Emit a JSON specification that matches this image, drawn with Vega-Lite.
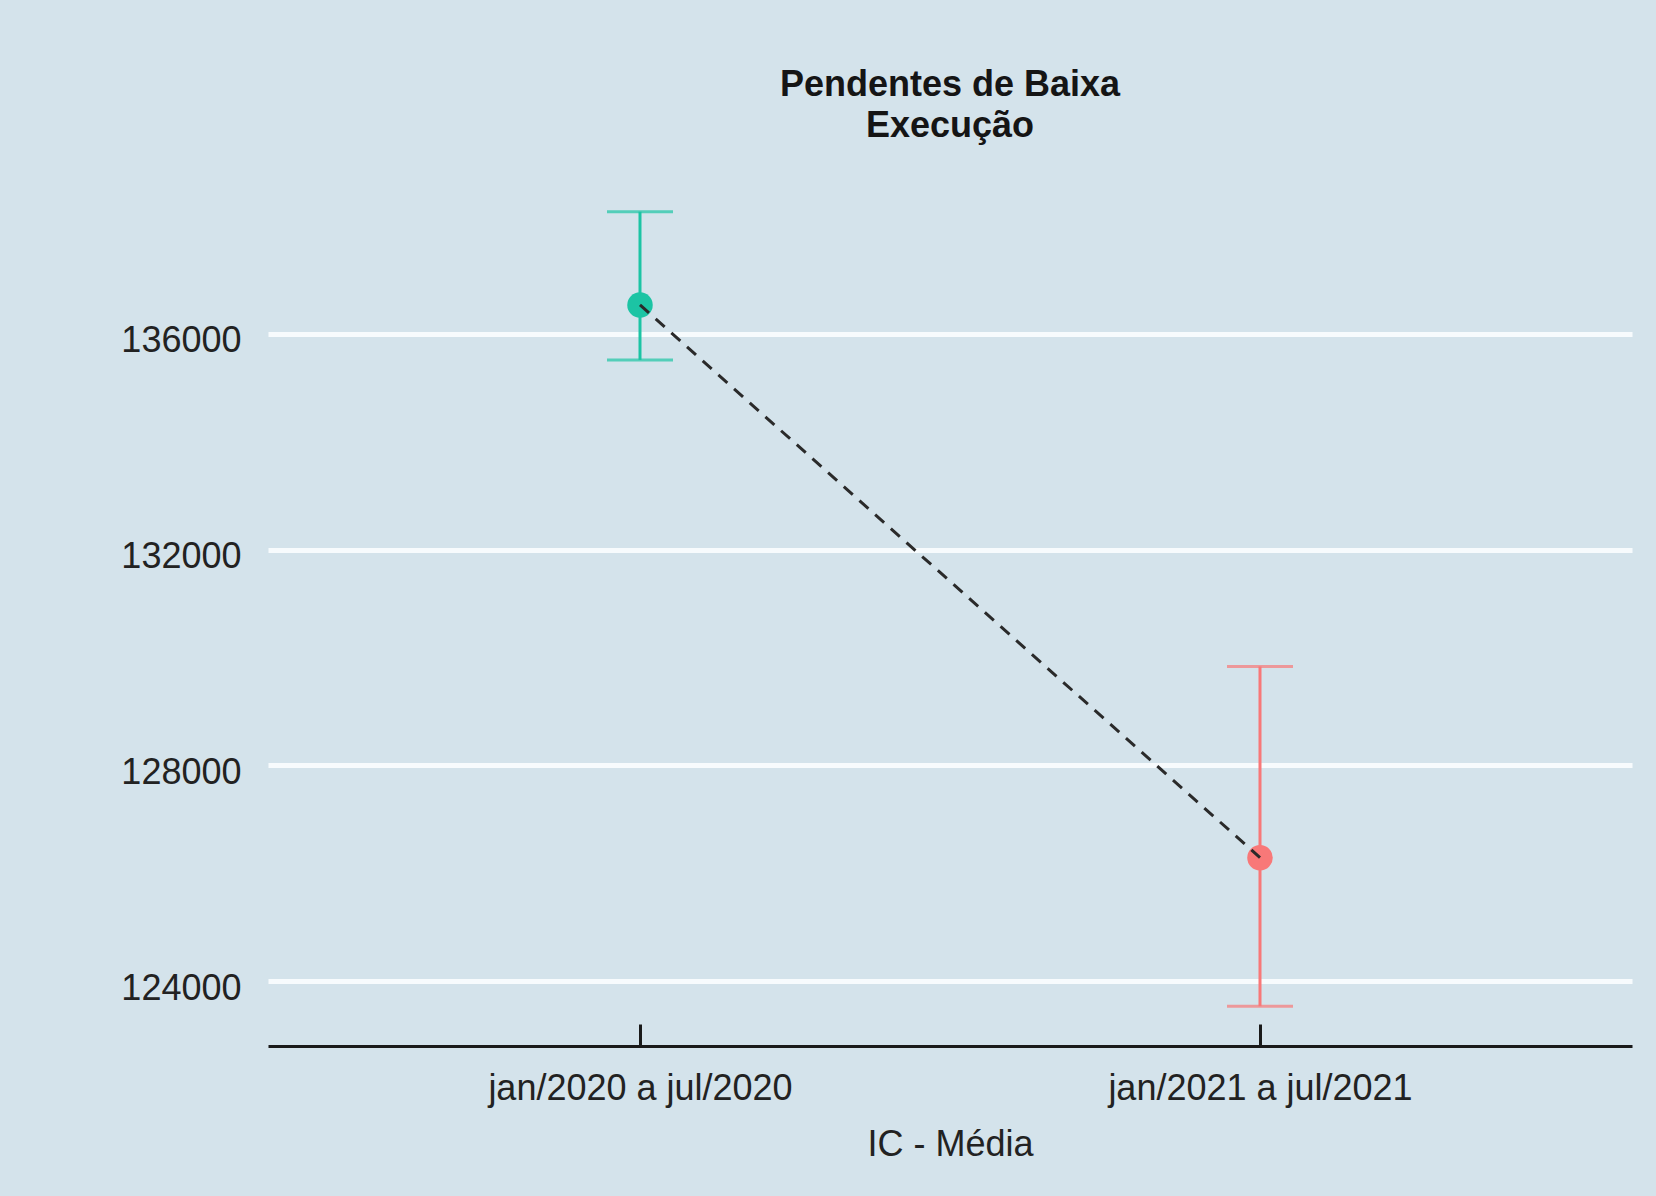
{
  "$schema": "https://vega.github.io/schema/vega-lite/v6.json",
  "autosize": {"type": "none"},
  "width": 1364,
  "height": 874,
  "padding": {"left": 268, "top": 172, "right": 24, "bottom": 150},
  "background": "#d4e3eb",
  "config": {
    "view": {"stroke": null},
    "font": "Liberation Sans",
    "axisY": {
      "domain": false,
      "ticks": false,
      "labelFontSize": 36,
      "labelColor": "#222222",
      "labelPadding": 27,
      "labelOffset": 7,
      "gridColor": "#f7fbfd",
      "gridWidth": 5
    }
  },
  "title": {
    "text": ["Pendentes de Baixa", "Execução"],
    "fontSize": 36,
    "fontWeight": "bold",
    "font": "Liberation Sans",
    "color": "#151515",
    "anchor": "middle",
    "offset": 27,
    "lineHeight": 41
  },
  "data": {
    "values": [
      {"periodo": "jan/2020 a jul/2020", "media": 136531, "inferior": 135513, "superior": 138259},
      {"periodo": "jan/2021 a jul/2021", "media": 126291, "inferior": 123537, "superior": 129833}
    ]
  },
  "encoding": {
    "x": {
      "field": "periodo",
      "type": "nominal",
      "sort": null,
      "scale": {"type": "point", "padding": 0.6},
      "title": "IC - Média",
      "axis": {
        "labelAngle": 0,
        "labelFontSize": 36,
        "labelColor": "#222222",
        "labelPadding": 47,
        "labelLimit": 0,
        "domainColor": "#1a1a1a",
        "domainWidth": 3,
        "tickColor": "#1a1a1a",
        "tickWidth": 3,
        "tickSize": -22,
        "grid": false,
        "titleFontSize": 36,
        "titleFontWeight": "normal",
        "titleColor": "#222222",
        "titlePadding": 21
      }
    }
  },
  "layer": [
    {
      "mark": {"type": "rule", "strokeWidth": 3},
      "encoding": {
        "y": {
          "field": "inferior",
          "type": "quantitative",
          "scale": {"domain": [122801, 138995], "nice": false, "zero": false},
          "title": null,
          "axis": {"values": [124000, 128000, 132000, 136000], "format": "d"}
        },
        "y2": {"field": "superior"},
        "color": {
          "field": "periodo",
          "type": "nominal",
          "scale": {"domain": ["jan/2020 a jul/2020", "jan/2021 a jul/2021"], "range": ["#1cc4a4", "#f87878"]},
          "legend": null
        }
      }
    },
    {
      "mark": {"type": "tick", "size": 66, "thickness": 3},
      "encoding": {
        "y": {"field": "inferior", "type": "quantitative", "title": null, "axis": {"values": [124000, 128000, 132000, 136000], "format": "d"}},
        "color": {"field": "periodo", "type": "nominal", "legend": null}
      }
    },
    {
      "mark": {"type": "tick", "size": 66, "thickness": 3},
      "encoding": {
        "y": {"field": "superior", "type": "quantitative", "title": null, "axis": {"values": [124000, 128000, 132000, 136000], "format": "d"}},
        "color": {"field": "periodo", "type": "nominal", "legend": null}
      }
    },
    {
      "mark": {"type": "point", "filled": true, "opacity": 1, "size": 650},
      "encoding": {
        "y": {"field": "media", "type": "quantitative", "title": null, "axis": {"values": [124000, 128000, 132000, 136000], "format": "d"}},
        "color": {"field": "periodo", "type": "nominal", "legend": null}
      }
    },
    {
      "mark": {"type": "line", "color": "#2a2a2a", "strokeWidth": 3, "strokeDash": [12, 9]},
      "encoding": {
        "y": {"field": "media", "type": "quantitative", "title": null, "axis": {"values": [124000, 128000, 132000, 136000], "format": "d"}}
      }
    }
  ]
}
